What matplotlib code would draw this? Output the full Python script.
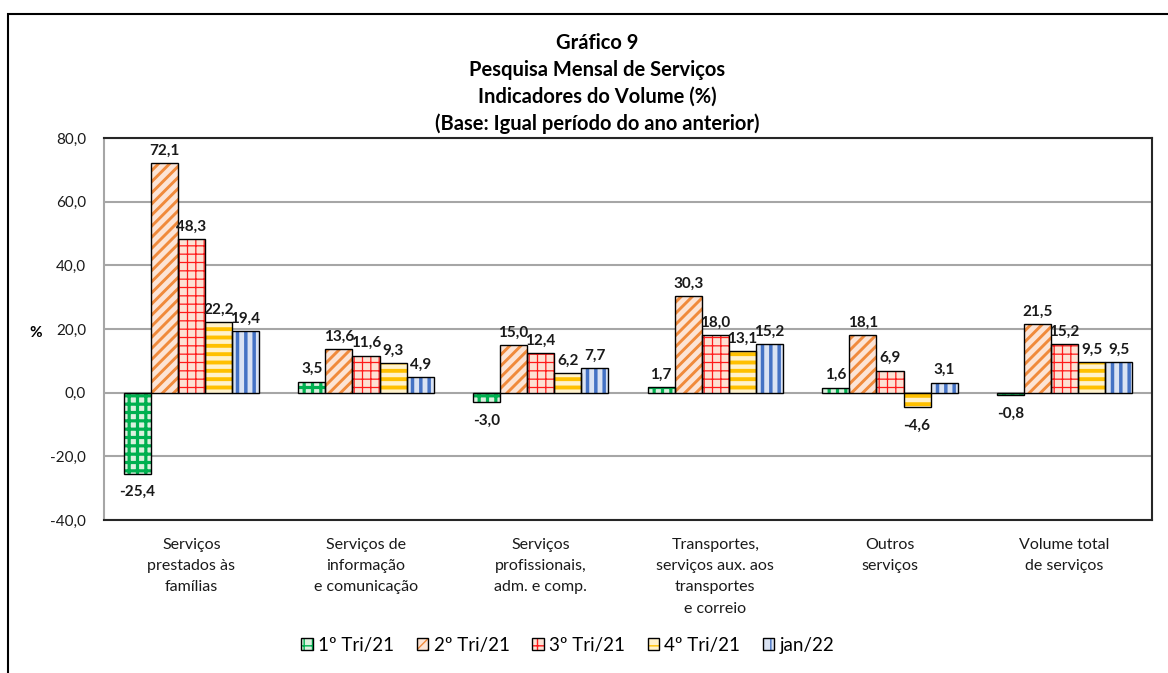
import numpy as np
import matplotlib
matplotlib.use('Agg')
import matplotlib.pyplot as plt
from matplotlib.patches import Rectangle
from matplotlib.ticker import FuncFormatter, MultipleLocator
from matplotlib.legend_handler import HandlerTuple

plt.rcParams['font.family'] = ['Lato', 'DejaVu Sans']

categories = ['Serviços\nprestados às\nfamílias',
              'Serviços de\ninformação\ne comunicação',
              'Serviços\nprofissionais,\nadm. e comp.',
              'Transportes,\nserviços aux. aos\ntransportes\ne correio',
              'Outros\nserviços',
              'Volume total\nde serviços']
series_names = ['1º Tri/21', '2º Tri/21', '3º Tri/21', '4º Tri/21', 'jan/22']
tri1 = [-25.4, 3.5, -3.0, 1.7, 1.6, -0.8]
tri2 = [72.1, 13.6, 15.0, 30.3, 18.1, 21.5]
tri3 = [48.3, 11.6, 12.4, 18.0, 6.9, 15.2]
tri4 = [22.2, 9.3, 6.2, 13.1, -4.6, 9.5]
jan22 = [19.4, 4.9, 7.7, 15.2, 3.1, 9.5]
series = [tri1, tri2, tri3, tri4, jan22]

# face colour, hatch colour, hatch, hatch linewidth
styles = [('#dcf1df', '#00b050', '++', 2.3),
          ('#fce4d6', '#f08a3c', '///', 2.1),
          ('#fde2d4', '#ff1a1a', '++', 0.9),
          ('#fff2cc', '#ffc000', '--', 2.8),
          ('#dae3f3', '#4472c4', '||', 2.5)]


def fmt(v, pos=None):
    return f'{v:.1f}'.replace('.', ',')


fig = plt.figure(figsize=(11.68, 6.73), dpi=100)
ax = fig.add_axes([104 / 1168, 1 - 520 / 673, 1048 / 1168, 382 / 673])

# outer chart frame
fig.patches.append(Rectangle((8 / 1168, -0.05), 1.1, 1.05 - 14 / 673,
                             transform=fig.transFigure, fill=False,
                             edgecolor='black', linewidth=1.5, zorder=0))

x = np.arange(len(categories))
width = 0.155
handles = []
for i, vals in enumerate(series):
    face, hc, hatch, hlw = styles[i]
    pos = x + (i - 2) * width
    with plt.rc_context({'hatch.linewidth': hlw}):
        bars = ax.bar(pos, vals, width, color=face, edgecolor=hc,
                      hatch=hatch, linewidth=0, zorder=2)
        if hasattr(bars.patches[0], 'set_hatch_linewidth'):
            for b in bars.patches:
                b.set_hatch_linewidth(hlw)
    outline = ax.bar(pos, vals, width, fill=False, edgecolor='black',
                     linewidth=1, zorder=3)
    handles.append((bars, outline))
    for xp, v in zip(pos, vals):
        off = 4 if v >= 0 else -8
        ax.annotate(fmt(v), (xp, v), xytext=(0, off),
                    textcoords='offset points', ha='center',
                    va='bottom' if v >= 0 else 'top',
                    fontsize=11, fontweight='bold', color='#1a1a1a')

ax.set_xlim(-0.5, len(categories) - 0.5)
ax.set_ylim(-40, 80)
ax.yaxis.set_major_locator(MultipleLocator(20))
ax.yaxis.set_major_formatter(FuncFormatter(fmt))
ax.set_xticks(x)
ax.set_xticklabels(categories, fontsize=11.5, color='#1a1a1a', linespacing=1.65)
ax.tick_params(axis='x', length=0, pad=13)
ax.tick_params(axis='y', length=0, pad=13, labelsize=11, labelcolor='#1a1a1a')
ax.grid(axis='y', color='#a6a6a6', linewidth=1.5, zorder=0)
ax.set_axisbelow(True)
for s in ['top', 'right', 'bottom']:
    ax.spines[s].set_color('#262626')
    ax.spines[s].set_linewidth(1.5)
ax.spines['left'].set_color('#a6a6a6')
ax.spines['left'].set_linewidth(1.5)

fig.text(36 / 1168, 1 - 333 / 673, '%', fontsize=11, fontweight='bold',
         ha='center', va='center')

title = ('Gráfico 9\nPesquisa Mensal de Serviços\nIndicadores do Volume (%)\n'
         '(Base: Igual período do ano anterior)')
fig.text(597 / 1168, 1 - 33 / 673, title, fontsize=14.5, fontweight='bold',
         ha='center', va='top', linespacing=1.42)

fig.legend(handles, series_names, loc='center', ncol=5,
           bbox_to_anchor=(568 / 1168, 1 - 645 / 673), frameon=False,
           fontsize=13.5, handlelength=0.6, handleheight=0.6,
           handletextpad=0.3, columnspacing=1.2,
           handler_map={tuple: HandlerTuple(ndivide=1)})

fig.savefig('out.png', dpi=100)
